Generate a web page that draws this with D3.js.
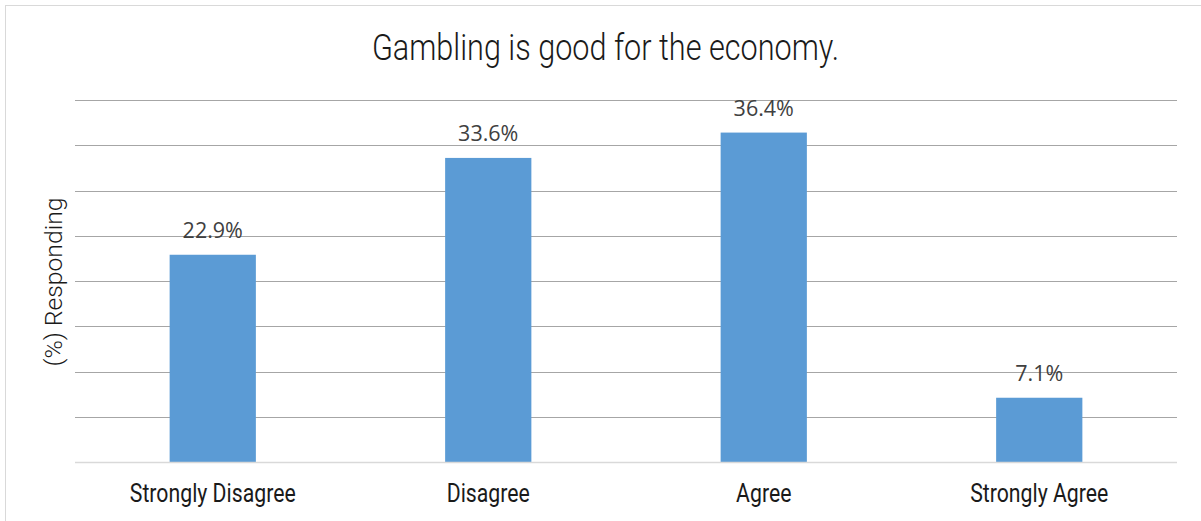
<!DOCTYPE html>
<html>
<head>
<meta charset="utf-8">
<script src="https://cdn.jsdelivr.net/npm/d3@7"></script>
<style>
    body { margin: 0; background: #fff; }
    svg { display: block; }
</style>
</head>
<body>
<div id="chart"></div>
<script>
const categories = ["Strongly Disagree", "Disagree", "Agree", "Strongly Agree"];
const values = [22.9, 33.6, 36.4, 7.1];
const yTicks = [0, 5, 10, 15, 20, 25, 30, 35, 40];
const title = "Gambling is good for the economy.";
const yTitle = "(%) Responding";

const width = 1201;
const height = 521;
const margin = { top: 100, right: 24, bottom: 59, left: 75 };

const svg = d3.select("#chart")
    .append("svg")
    .attr("width", width)
    .attr("height", height);

// chart border
svg.append("rect")
    .attr("x", 5.5)
    .attr("y", 5.5)
    .attr("width", width)
    .attr("height", height)
    .attr("fill", "none")
    .attr("stroke", "#d9d9d9");

const x = d3.scaleBand()
    .domain(categories)
    .range([margin.left, width - margin.right])
    .paddingInner(0.687)
    .paddingOuter(0.3435);

const y = d3.scaleLinear()
    .domain([0, 40])
    .range([height - margin.bottom, margin.top]);

// gridlines
svg.append("g")
    .selectAll("line")
    .data(yTicks.filter(function(d) { return d > 0; }))
    .enter()
    .append("line")
    .attr("x1", margin.left)
    .attr("x2", width - margin.right)
    .attr("y1", function(d) { return Math.round(y(d)) + 0.5; })
    .attr("y2", function(d) { return Math.round(y(d)) + 0.5; })
    .attr("stroke", "#a6a6a6")
    .attr("stroke-width", 1);

// bars
svg.append("g")
    .selectAll("rect")
    .data(values)
    .enter()
    .append("rect")
    .attr("x", function(d, i) { return x(categories[i]); })
    .attr("y", function(d) { return y(d); })
    .attr("width", x.bandwidth())
    .attr("height", function(d) { return y(0) - y(d); })
    .attr("fill", "#5b9bd5");

// baseline
svg.append("line")
    .attr("x1", margin.left)
    .attr("x2", width - margin.right)
    .attr("y1", y(0) + 0.5)
    .attr("y2", y(0) + 0.5)
    .attr("stroke", "#d9d9d9")
    .attr("stroke-width", 1.5);

// data labels
svg.append("g")
    .selectAll("text")
    .data(values)
    .enter()
    .append("text")
    .attr("x", function(d, i) { return x(categories[i]) + x.bandwidth() / 2; })
    .attr("y", function(d) { return y(d) - 17; })
    .attr("text-anchor", "middle")
    .attr("font-family", "'Open Sans', sans-serif")
    .attr("font-size", 21.5)
    .attr("fill", "#404040")
    .text(function(d) { return d.toFixed(1) + "%"; });

// category labels
const xAxis = d3.axisBottom(x).tickSize(0).tickPadding(0);

const xg = svg.append("g")
    .attr("transform", "translate(0," + (y(0) + 40) + ")")
    .call(xAxis);

xg.select(".domain").remove();

xg.selectAll("text")
    .attr("dy", 0)
    .attr("font-family", "Roboto, sans-serif")
    .attr("font-size", 25)
    .attr("fill", "#1a1a1a")
    .attr("data-squeeze", 0.85);

// title
svg.append("text")
    .attr("x", width / 2 + 5)
    .attr("y", 59.5)
    .attr("text-anchor", "middle")
    .attr("font-family", "Roboto, sans-serif")
    .attr("font-weight", 300)
    .attr("font-size", 36)
    .attr("fill", "#1a1a1a")
    .attr("data-squeeze", 0.85)
    .text(title);

// y axis title
svg.append("text")
    .attr("transform", "translate(62," + ((margin.top + y(0)) / 2 + 1) + ") rotate(-90)")
    .attr("text-anchor", "middle")
    .attr("font-family", "Roboto, sans-serif")
    .attr("font-weight", 300)
    .attr("font-size", 24)
    .attr("fill", "#1a1a1a")
    .attr("data-squeeze", 1.03)
    .text(yTitle);

// Roboto Condensed is not installed, so fit Roboto to the widths of the original
svg.selectAll("[data-squeeze]").each(function() {
    const el = d3.select(this);
    const w = this.getComputedTextLength();
    el.attr("textLength", w * (+el.attr("data-squeeze")))
        .attr("lengthAdjust", "spacingAndGlyphs");
});
</script>
</body>
</html>
